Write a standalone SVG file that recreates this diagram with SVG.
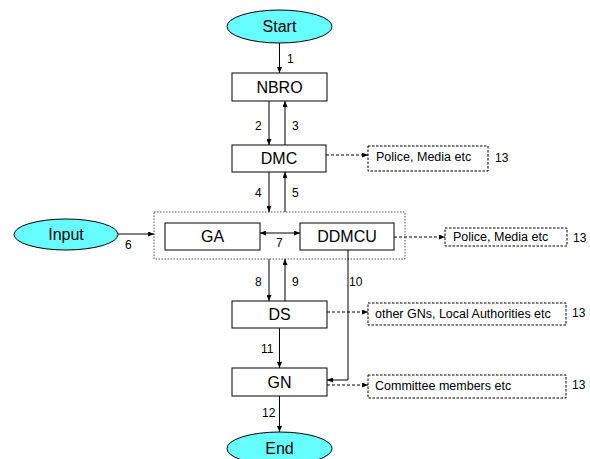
<svg xmlns="http://www.w3.org/2000/svg" width="590" height="459" viewBox="0 0 590 459">
<style>
text{font-family:"Liberation Sans",Arial,sans-serif;fill:#000}
.n{font-size:16px;text-anchor:middle}
.l{font-size:12px}
.s{font-size:12.5px}
.box{fill:#fff;stroke:#000;stroke-width:1}
.ell{fill:#66ffff;stroke:#000;stroke-width:1}
.dbox{fill:#fff;stroke:#000;stroke-width:1;stroke-dasharray:2.5,1.5}
.gbox{fill:none;stroke:#555;stroke-width:1;stroke-dasharray:1.5,1.5}
.c{fill:none;stroke:#000;stroke-width:1}
.d{fill:none;stroke:#000;stroke-width:1;stroke-dasharray:3,2}
</style>
<defs>
<marker id="a" viewBox="0 0 6 5" refX="6" refY="2.5" markerWidth="6" markerHeight="5" markerUnits="userSpaceOnUse" orient="auto-start-reverse">
<path d="M0,0L6,2.5L0,5z" fill="#000"/>
</marker>
</defs>
<g id="group-box"><rect x="154" y="212" width="251" height="47" class="gbox"/></g>
<g id="connectors">
<line x1="279.5" y1="43" x2="279.5" y2="73" class="c" marker-end="url(#a)"/>
<line x1="269" y1="101" x2="269" y2="145" class="c" marker-end="url(#a)"/>
<line x1="285" y1="145" x2="285" y2="101" class="c" marker-end="url(#a)"/>
<line x1="269" y1="172" x2="269" y2="212" class="c" marker-end="url(#a)"/>
<line x1="285" y1="212" x2="285" y2="172" class="c" marker-end="url(#a)"/>
<line x1="118" y1="234" x2="154" y2="234" class="c" marker-end="url(#a)"/>
<line x1="260" y1="233" x2="300" y2="233" class="c" marker-start="url(#a)" marker-end="url(#a)"/>
<line x1="269" y1="259" x2="269" y2="301" class="c" marker-end="url(#a)"/>
<line x1="285" y1="301" x2="285" y2="259" class="c" marker-end="url(#a)"/>
<polyline points="348,250 348,380 327,380" class="c" marker-end="url(#a)"/>
<line x1="279.5" y1="328" x2="279.5" y2="368" class="c" marker-end="url(#a)"/>
<line x1="279.5" y1="396" x2="279.5" y2="432" class="c" marker-end="url(#a)"/>
<line x1="326" y1="155" x2="368" y2="155" class="d" marker-end="url(#a)"/>
<line x1="394" y1="237" x2="445" y2="237" class="d" marker-end="url(#a)"/>
<line x1="327" y1="312" x2="368" y2="312" class="d" marker-end="url(#a)"/>
<line x1="327" y1="385" x2="368" y2="385" class="d" marker-end="url(#a)"/>
<text class="l" x="287" y="63">1</text>
<text class="l" x="255" y="130">2</text>
<text class="l" x="292" y="130">3</text>
<text class="l" x="255" y="197">4</text>
<text class="l" x="292" y="197">5</text>
<text class="l" x="125" y="249">6</text>
<text class="l" x="276" y="247">7</text>
<text class="l" x="255" y="286">8</text>
<text class="l" x="292" y="286">9</text>
<text class="l" x="349" y="286">10</text>
<text class="l" x="261" y="353">11</text>
<text class="l" x="262" y="417">12</text>
</g>
<g id="start"><ellipse cx="279.5" cy="26.5" rx="52.5" ry="16.5" class="ell"/><text class="n" x="279.5" y="32">Start</text></g>
<g id="nbro"><rect x="232" y="73" width="95" height="28" class="box"/><text class="n" x="279.5" y="93">NBRO</text></g>
<g id="dmc"><rect x="232" y="145" width="94" height="27" class="box"/><text class="n" x="279" y="164">DMC</text></g>
<g id="input"><ellipse cx="66" cy="234.5" rx="52" ry="15.5" class="ell"/><text class="n" x="66" y="240">Input</text></g>
<g id="ga"><rect x="165" y="223" width="95" height="27" class="box"/><text class="n" x="212.5" y="242">GA</text></g>
<g id="ddmcu"><rect x="300" y="223" width="94" height="27" class="box"/><text class="n" x="347" y="242">DDMCU</text></g>
<g id="ds"><rect x="232" y="301" width="95" height="27" class="box"/><text class="n" x="279.5" y="320">DS</text></g>
<g id="gn"><rect x="232" y="368" width="95" height="28" class="box"/><text class="n" x="279.5" y="388">GN</text></g>
<g id="end"><ellipse cx="279.5" cy="448.5" rx="52.5" ry="16.5" class="ell"/><text class="n" x="279.5" y="454">End</text></g>
<g id="police1"><rect x="368" y="146" width="120" height="25" class="dbox"/><text class="s" x="376" y="161">Police, Media etc</text><text class="l" x="495" y="162">13</text></g>
<g id="police2"><rect x="445" y="228" width="122" height="18" class="dbox"/><text class="s" x="453" y="241">Police, Media etc</text><text class="l" x="573" y="242">13</text></g>
<g id="others"><rect x="368" y="303" width="198" height="22" class="dbox"/><text class="s" x="375" y="318">other GNs, Local Authorities etc</text><text class="l" x="572" y="317">13</text></g>
<g id="committee"><rect x="368" y="375" width="198" height="23" class="dbox"/><text class="s" x="375" y="390">Committee members etc</text><text class="l" x="572" y="389">13</text></g>
</svg>
